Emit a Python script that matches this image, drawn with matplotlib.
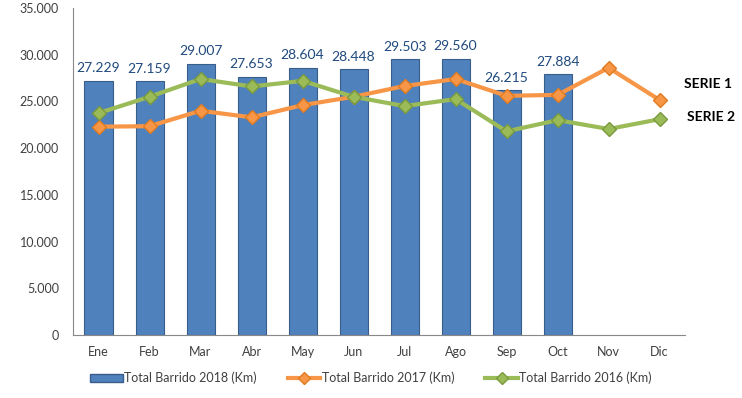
import numpy as np
import matplotlib.pyplot as plt
from matplotlib.patches import Patch
from matplotlib.lines import Line2D

meses = ["Ene", "Feb", "Mar", "Abr", "May", "Jun", "Jul", "Ago", "Sep", "Oct", "Nov", "Dic"]
barrido_2018 = [27229, 27159, 29007, 27653, 28604, 28448, 29503, 29560, 26215, 27884]
barrido_2017 = [22300, 22350, 24000, 23300, 24600, 25500, 26650, 27400, 25600, 25700, 28600, 25150]
barrido_2016 = [23750, 25500, 27400, 26600, 27200, 25500, 24500, 25250, 21800, 23000, 22050, 23100]

plt.rcParams["font.family"] = ["Lato", "DejaVu Sans"]

blue = "#4F81BD"
orange = "#F79646"
green = "#9BBB59"

fig = plt.figure(figsize=(7.42, 3.98), dpi=100)
ax = fig.add_axes([0.0984, 0.158, 0.825, 0.822])

x = np.arange(len(meses))
xb = x[:len(barrido_2018)]
bars = ax.bar(xb, barrido_2018, width=0.55, color=blue, edgecolor="#385D8A", lw=0.8, zorder=2)
for xi, v in zip(xb, barrido_2018):
    ax.text(xi, v + 700, f"{v:,}".replace(",", "."), ha="center", va="bottom",
            fontsize=10, color="#1F497D", zorder=5)

ax.plot(x, barrido_2017, color=orange, lw=3, marker="D", ms=7,
        mfc=orange, mec="#E07B20", zorder=3)
ax.plot(x, barrido_2016, color=green, lw=3, marker="D", ms=7,
        mfc=green, mec="#7A9A3E", zorder=3)

ax.set_xlim(-0.5, 11.5)
ax.set_ylim(0, 35000)
ax.set_yticks(np.arange(0, 35001, 5000))
ax.set_yticklabels([f"{v:,}".replace(",", ".") for v in range(0, 35001, 5000)])
ax.set_xticks(x)
ax.set_xticklabels(meses)
ax.tick_params(axis="both", labelsize=9, colors="#404040", length=0)
ax.tick_params(axis="x", pad=8)
ax.tick_params(axis="y", pad=10)
for s in ["top", "right"]:
    ax.spines[s].set_visible(False)
for s in ["left", "bottom"]:
    ax.spines[s].set_color("#888888")
    ax.spines[s].set_linewidth(0.8)

fig.text(0.922, 0.778, "SERIE 1", fontsize=10, fontweight="bold", color="black")
fig.text(0.926, 0.697, "SERIE 2", fontsize=10, fontweight="bold", color="black")

handles = [
    Patch(facecolor=blue, edgecolor="#385D8A"),
    Line2D([], [], color=orange, lw=3, marker="D", ms=6, mfc=orange, mec="#E07B20"),
    Line2D([], [], color=green, lw=3, marker="D", ms=6, mfc=green, mec="#7A9A3E"),
]
labels = ["Total Barrido 2018 (Km)", "Total Barrido 2017 (Km)", "Total Barrido 2016 (Km)"]
fig.legend(handles, labels, loc="center", bbox_to_anchor=(0.5, 0.05), ncol=3,
           frameon=False, fontsize=9, handlelength=2.6, handletextpad=0.1,
           columnspacing=2.5, labelcolor="#404040")

fig.savefig("out.png", dpi=100)
